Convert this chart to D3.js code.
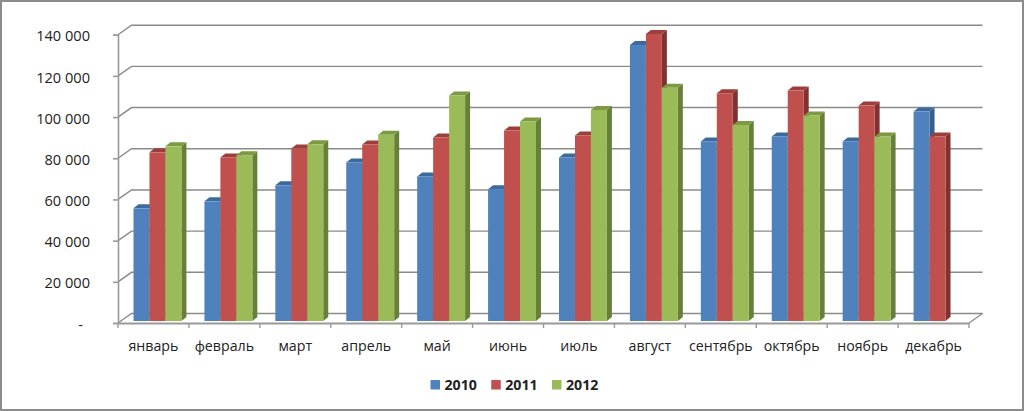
<!DOCTYPE html>
<html>
<head>
<meta charset="utf-8">
<script src="https://cdn.jsdelivr.net/npm/d3@7"></script>
<style>
  html, body { margin: 0; padding: 0; background: #fff; }
  svg { display: block; }
  text { font-family: "Open Sans", sans-serif; fill: #222; }
</style>
</head>
<body>
<div id="chart"></div>
<script>
const months = ["январь", "февраль", "март", "апрель", "май", "июнь", "июль", "август", "сентябрь", "октябрь", "ноябрь", "декабрь"];
const years = ["2010", "2011", "2012"];
const values2010 = [54700, 58100, 65900, 77000, 70200, 64000, 79400, 134000, 87200, 89600, 87200, 101700];
const values2011 = [81900, 79400, 83800, 85700, 89100, 92500, 90100, 139400, 110600, 111900, 104600, 89600];
const values2012 = [84800, 80500, 85800, 90500, 109500, 96900, 102500, 113300, 95200, 99800, 89600, null];
const yTicks = [0, 20000, 40000, 60000, 80000, 100000, 120000, 140000];

const seriesValues = [values2010, values2011, values2012];
const frontColors = ["#4F81BD", "#C0504D", "#9BBB59"];
const topColors = ["#3D6A9E", "#9C3E3B", "#7B9A41"];
const sideColors = ["#365F91", "#7F3230", "#66803A"];

const width = 1024, height = 411;
const plotLeft = 118, plotRight = 969, plotTop = 34.7, plotBottom = 323;
const wallDx = 13.5, wallDy = -9.5;   // back wall offset
const barDx = 4, barDy = -2;          // bar front plane offset from the axis plane
const depthX = 5, depthY = -4;        // visible bar depth

let x = d3.scaleBand().domain(months).range([plotLeft, plotRight]).paddingInner(0).paddingOuter(0);
let inner = d3.scaleBand().domain(years).range([11.5, x.bandwidth() - 11.5]);
let y = d3.scaleLinear().domain([0, 140000]).range([plotBottom, plotTop]);

let svg = d3.select("#chart").append("svg")
  .attr("width", width)
  .attr("height", height);

// outer frame
svg.append("rect")
  .attr("x", 1).attr("y", 1)
  .attr("width", width - 2).attr("height", height - 2)
  .attr("fill", "#fff")
  .attr("stroke", "#8c8c8c")
  .attr("stroke-width", 2);

// grid lines on the side and back walls
yTicks.forEach(function (t) {
  svg.append("path")
    .attr("d", d3.line()([
      [plotLeft, y(t)],
      [plotLeft + wallDx, y(t) + wallDy],
      [plotRight + wallDx, y(t) + wallDy]
    ]))
    .attr("fill", "none")
    .attr("stroke", "#8a8a8a")
    .attr("stroke-width", 1.4);
});

// floor edge on the right
svg.append("path")
  .attr("d", d3.line()([[plotRight, y(0)], [plotRight + wallDx, y(0) + wallDy]]))
  .attr("fill", "none")
  .attr("stroke", "#8a8a8a")
  .attr("stroke-width", 1.2);

// y axis
let yAxis = d3.axisLeft(y)
  .tickValues(yTicks)
  .tickSize(5)
  .tickPadding(23)
  .tickFormat(function (d) {
    return d === 0 ? "-" : d3.format(",")(d).replace(/,/g, " ");
  });

let yG = svg.append("g")
  .attr("transform", "translate(" + plotLeft + ",0)")
  .call(yAxis);
yG.selectAll("path, line").attr("stroke", "#9a9a9a").attr("stroke-width", 1.6);
yG.selectAll("text")
  .attr("font-size", 14.6)
  .attr("dy", "0.42em")
  .attr("dx", function (d) { return d === 0 ? -7 : 0; })
  .style("fill", "#222");

// x axis
let xAxis = d3.axisBottom(x)
  .tickSizeOuter(0)
  .tickSize(0)
  .tickPadding(18);

let xG = svg.append("g")
  .attr("transform", "translate(0," + plotBottom + ")")
  .call(xAxis);
xG.select("path").attr("stroke", "#9a9a9a").attr("stroke-width", 2);
xG.selectAll("text").attr("font-size", 14.2).style("fill", "#222");

// tick marks sit between the categories
svg.append("g").selectAll("line")
  .data(months.concat(["end"]))
  .enter().append("line")
  .attr("x1", function (d, i) { return plotLeft + i * x.bandwidth(); })
  .attr("x2", function (d, i) { return plotLeft + i * x.bandwidth(); })
  .attr("y1", plotBottom)
  .attr("y2", plotBottom + 5)
  .attr("stroke", "#9a9a9a")
  .attr("stroke-width", 1.4);

// bars, one group per category so neighbours overlap the same way
let bars = svg.append("g")
  .attr("transform", "translate(" + barDx + "," + barDy + ")");

months.forEach(function (month, m) {
  years.forEach(function (year, s) {
    let v = seriesValues[s][m];
    if (v === null) return;
    let x0 = x(month) + inner(year);
    let x1 = x0 + inner.bandwidth();
    let yTop = y(v);
    let yBase = y(0);

    // right side
    bars.append("path")
      .attr("d", d3.line()([[x1, yTop], [x1 + depthX, yTop + depthY], [x1 + depthX, yBase + depthY], [x1, yBase]]) + "Z")
      .attr("fill", sideColors[s]);
    // top
    bars.append("path")
      .attr("d", d3.line()([[x0, yTop], [x0 + depthX, yTop + depthY], [x1 + depthX, yTop + depthY], [x1, yTop]]) + "Z")
      .attr("fill", topColors[s]);
    // front
    bars.append("rect")
      .attr("x", x0)
      .attr("y", yTop)
      .attr("width", inner.bandwidth())
      .attr("height", yBase - yTop)
      .attr("fill", frontColors[s]);
  });
});

// legend
let legendX = d3.scalePoint().domain(years).range([430.5, 552]);
let legend = svg.append("g").selectAll("g")
  .data(years)
  .enter().append("g")
  .attr("transform", function (d) { return "translate(" + legendX(d) + ",380)"; });

legend.append("rect")
  .attr("width", 9.5)
  .attr("height", 9.5)
  .attr("fill", function (d, i) { return frontColors[i]; });

legend.append("text")
  .attr("x", 14)
  .attr("y", 9.5)
  .attr("font-size", 14.2)
  .attr("font-weight", 700)
  .text(function (d) { return d; });
</script>
</body>
</html>
